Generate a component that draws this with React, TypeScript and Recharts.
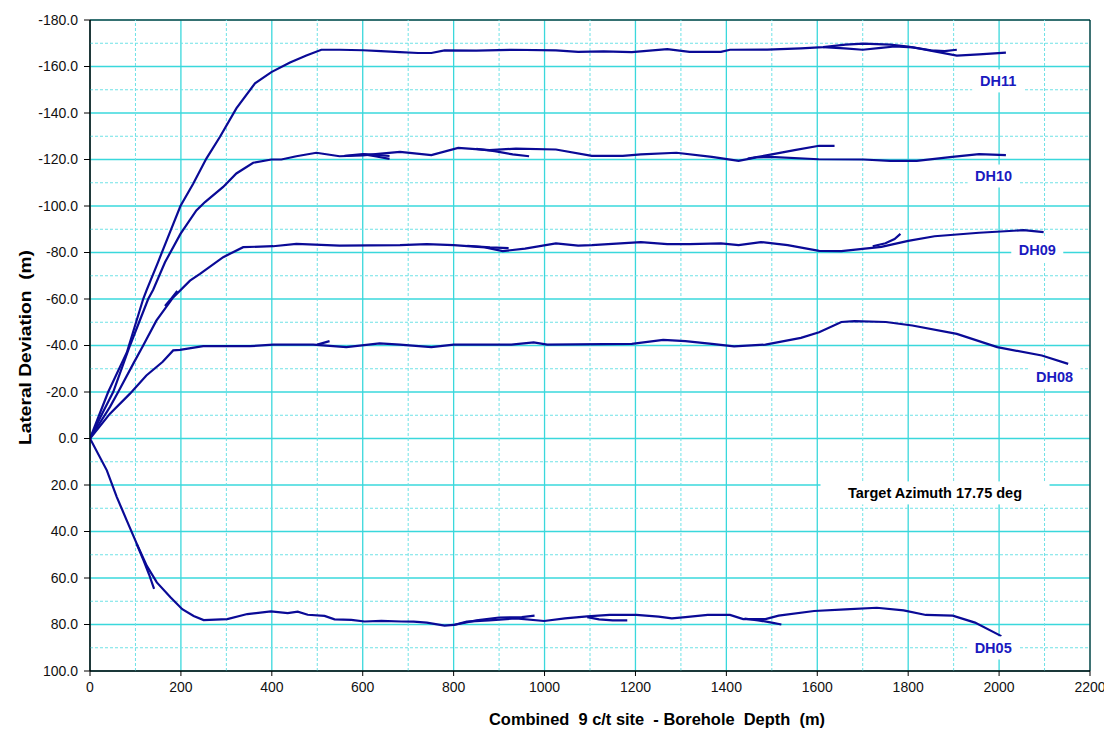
import {
  LineChart,
  Line,
  XAxis,
  YAxis,
  CartesianGrid,
  ReferenceLine,
  ReferenceDot,
  ReferenceArea,
} from "recharts";

type Pt = [number, number];

const FONT = "'Liberation Sans', Arial, sans-serif";
const LINE = "#0a0a96";
const TAG = "#1a1abf";

const xTicks = [0, 200, 400, 600, 800, 1000, 1200, 1400, 1600, 1800, 2000, 2200];
const yTicks = [-180, -160, -140, -120, -100, -80, -60, -40, -20, 0, 20, 40, 60, 80, 100];
const xMinor = [100, 300, 500, 700, 900, 1100, 1300, 1500, 1700, 1900, 2100];
const yMinor = [-170, -150, -130, -110, -90, -70, -50, -30, -10, 10, 30, 50, 70, 90];

// DH11 surveys
const dh11Main: Pt[] = [
  [0, 0], [20, -10], [40, -20], [81, -37], [117, -60], [125, -64], [150, -76],
  [176, -88.8], [199, -100], [227, -109.6], [256, -120.4], [286, -129.8],
  [322, -142], [363, -152.8], [399, -157.6], [440, -161.7], [476, -164.7],
  [509, -167.2], [549, -167.2], [600, -167], [640, -166.6], [682, -166.2],
  [722, -165.8], [751, -165.8], [780, -166.9], [850, -166.8], [927, -167.2],
  [1025, -166.9], [1074, -166.3], [1130, -166.5], [1192, -166.2], [1270, -167.5],
  [1319, -166.3], [1388, -166.3], [1408, -167.2], [1490, -167.3], [1564, -167.8],
  [1613, -168.3], [1662, -169.4], [1701, -169.8], [1760, -169.4], [1800, -168.6],
  [1858, -166.5], [1907, -164.7], [1956, -165.2], [2015, -166],
];
const dh11Late: Pt[] = [
  [1613, -168.3], [1660, -167.8], [1700, -167.2], [1740, -168], [1770, -168.6],
  [1810, -168.2], [1850, -167], [1880, -166.6], [1907, -167.2],
];

// DH10 surveys
const dh10Main: Pt[] = [
  [0, 0], [25, -10], [51, -20], [88, -40], [128, -60], [139, -64], [165, -75.8],
  [199, -88], [234, -98.1], [253, -101.7], [293, -108.2], [322, -114],
  [359, -118.6], [399, -120], [421, -120], [454, -121.4], [498, -122.9],
  [549, -121.4], [600, -121.8], [640, -122.5], [682, -123.3], [751, -121.9],
  [810, -125], [879, -124], [937, -124.7], [1025, -124.3], [1104, -121.6],
  [1172, -121.6], [1212, -122.2], [1290, -122.9], [1368, -121.1], [1427, -119.4],
  [1466, -120.9], [1496, -121.1], [1603, -120.1], [1701, -120], [1760, -119.4],
  [1819, -119.4], [1897, -121.1], [1956, -122.3], [2015, -121.9],
];
const dh10B: Pt[] = [[560, -121.6], [600, -122.3], [630, -121.3], [659, -120.3]];
const dh10C: Pt[] = [[600, -122.3], [630, -122], [659, -121.5]];
const dh10D: Pt[] = [[850, -124.6], [890, -123.6], [930, -122.2], [966, -121.4]];
const dh10E: Pt[] = [[1447, -120.4], [1500, -122.2], [1550, -124], [1604, -125.9], [1638, -125.9]];

// DH09 surveys
const dh09Main: Pt[] = [
  [0, 0], [44, -13.6], [62, -20], [95, -32.1], [117, -40], [146, -50.7],
  [183, -60.7], [220, -67.9], [242, -70.8], [293, -78], [337, -82.3],
  [403, -82.7], [454, -83.7], [549, -83], [682, -83.2], [741, -83.6],
  [800, -83.2], [869, -82.2], [908, -80.6], [957, -81.7], [1025, -83.9],
  [1074, -83], [1104, -83.2], [1212, -84.5], [1270, -83.6], [1319, -83.6],
  [1388, -83.9], [1427, -83.2], [1476, -84.5], [1535, -83.2], [1604, -80.7],
  [1653, -80.6], [1741, -82.4], [1800, -85], [1858, -87], [1956, -88.5],
  [2054, -89.6], [2098, -88.8],
];
const dh09B: Pt[] = [[165, -57], [180, -60.5], [192, -63.5]];
const dh09C: Pt[] = [[830, -82.9], [880, -82.2], [921, -81.9]];
const dh09D: Pt[] = [[1722, -82.7], [1750, -84], [1770, -85.8], [1783, -88]];

// DH08 surveys
const dh08Main: Pt[] = [
  [0, 0], [44, -10.7], [88, -19.3], [124, -27.1], [160, -33], [183, -37.9],
  [198, -38.1], [249, -39.7], [352, -39.7], [403, -40.4], [491, -40.4],
  [564, -39.3], [637, -40.9], [682, -40.4], [751, -39.3], [800, -40.4],
  [927, -40.4], [976, -41.3], [1006, -40.4], [1192, -40.7], [1261, -42.4],
  [1310, -41.9], [1368, -40.7], [1417, -39.6], [1486, -40.4], [1564, -43.3],
  [1604, -45.7], [1653, -50.1], [1682, -50.5], [1751, -50.1], [1809, -48.6],
  [1907, -45], [1996, -39.3], [2094, -35.7], [2152, -32.1],
];
const dh08B: Pt[] = [[500, -40.4], [527, -41.9]];

// DH05 surveys
const dh05Main: Pt[] = [
  [0, 0], [37, 13.7], [59, 25.2], [81, 35.3], [103, 45.3], [125, 54.8],
  [147, 61.9], [177, 68.3], [203, 73.4], [228, 76.3], [250, 78.1], [302, 77.7],
  [346, 75.5], [398, 74.4], [435, 75.1], [457, 74.5], [479, 75.8], [516, 76.3],
  [538, 77.8], [575, 78], [604, 78.7], [641, 78.4], [685, 78.7], [712, 78.8],
  [741, 79.2], [780, 80.5], [800, 80.2], [829, 78.8], [878, 78.2], [937, 77.4],
  [999, 78.5], [1045, 77.4], [1094, 76.5], [1143, 75.9], [1202, 75.9],
  [1251, 76.6], [1280, 77.4], [1310, 76.8], [1359, 75.9], [1408, 75.9],
  [1437, 77.7], [1486, 77.7], [1515, 76.2], [1593, 74.2], [1662, 73.5],
  [1731, 72.8], [1790, 73.9], [1839, 75.9], [1898, 76.2], [1947, 79.2], [2005, 85],
];
const dh05B: Pt[] = [[103, 45.5], [118, 52.5], [130, 58.5], [141, 64.7]];
const dh05C: Pt[] = [[800, 80.2], [850, 78.2], [900, 77], [950, 76.8], [978, 76.2]];
const dh05D: Pt[] = [[1094, 76.8], [1120, 77.8], [1150, 78.2], [1182, 78.2]];
const dh05E: Pt[] = [[1440, 77.5], [1470, 78.2], [1500, 79.2], [1521, 80]];

const surveys: Pt[][] = [
  dh11Main, dh11Late,
  dh10Main, dh10B, dh10C, dh10D, dh10E,
  dh09Main, dh09B, dh09C, dh09D,
  dh08Main, dh08B,
  dh05Main, dh05B, dh05C, dh05D, dh05E,
];

const tags = [
  { text: "DH11", x: 1998, y: -153.8, w: 52, color: TAG },
  { text: "DH10", x: 1988, y: -112.9, w: 52, color: TAG },
  { text: "DH09", x: 2084, y: -81.1, w: 52, color: TAG },
  { text: "DH08", x: 2122, y: -26.4, w: 52, color: TAG },
  { text: "DH05", x: 1987, y: 90.1, w: 52, color: TAG },
  { text: "Target Azimuth 17.75 deg", x: 1859, y: 23.4, w: 229, color: "#000" },
];

const toPoints = (pts: Pt[]) => pts.map(([x, y]) => ({ x, y }));

function BoxLabel(props: any) {
  const { viewBox, text, w, color } = props;
  const cx = viewBox.x + viewBox.width / 2;
  const cy = viewBox.y + viewBox.height / 2;
  const h = 23;
  return (
    <g>
      <rect x={cx - w / 2} y={cy - h / 2} width={w} height={h} fill="#fff" />
      <text
        x={cx}
        y={cy}
        textAnchor="middle"
        dominantBaseline="central"
        fill={color}
        style={{ fontFamily: FONT, fontSize: 14.5, fontWeight: "bold" }}
      >
        {text}
      </text>
    </g>
  );
}

export default function App() {
  const tick = { fill: "#111", fontSize: 14, fontFamily: FONT };
  return (
    <LineChart
      width={1100}
      height={730}
      margin={{ top: 12, right: 18, left: 0, bottom: 37 }}
    >
      <CartesianGrid stroke="#3ad8dc" strokeWidth={1.3} />
      {xMinor.map((v) => (
        <ReferenceLine key={"vx" + v} x={v} stroke="#6fe2e6" strokeDasharray="3 2" />
      ))}
      {yMinor.map((v) => (
        <ReferenceLine key={"hy" + v} y={v} stroke="#6fe2e6" strokeDasharray="3 2" />
      ))}
      <XAxis
        type="number"
        dataKey="x"
        domain={[0, 2200]}
        ticks={xTicks}
        interval={0}
        allowDataOverflow
        height={30}
        tick={tick}
        tickSize={5}
        tickMargin={6}
        axisLine={{ stroke: "#000" }}
        tickLine={{ stroke: "#000" }}
        label={{
          content: (p: any) => (
            <text
              x={p.viewBox.x + 567}
              y={p.viewBox.y + p.viewBox.height + 24}
              textAnchor="middle"
              textLength={336}
              lengthAdjust="spacingAndGlyphs"
              style={{ fontFamily: FONT, fontSize: 16.5, fontWeight: "bold", whiteSpace: "pre" }}
              fill="#000"
            >
              {"Combined  9 c/t site  - Borehole  Depth  (m)"}
            </text>
          ),
        }}
      />
      <YAxis
        type="number"
        dataKey="y"
        domain={[-180, 100]}
        ticks={yTicks}
        interval={0}
        reversed
        allowDataOverflow
        width={82}
        tick={tick}
        tickSize={6}
        tickMargin={6}
        tickFormatter={(v: number) => v.toFixed(1)}
        axisLine={{ stroke: "#000" }}
        tickLine={{ stroke: "#000" }}
        label={{
          content: (p: any) => {
            const cx = p.viewBox.x + 17;
            const cy = p.viewBox.y + p.viewBox.height / 2 + 2;
            return (
              <text
                x={cx}
                y={cy}
                transform={`rotate(-90 ${cx} ${cy})`}
                textAnchor="middle"
                dominantBaseline="central"
                textLength={195}
                lengthAdjust="spacingAndGlyphs"
                style={{ fontFamily: FONT, fontSize: 17, fontWeight: "bold", whiteSpace: "pre" }}
                fill="#000"
              >
                {"Lateral Deviation  (m)"}
              </text>
            );
          },
        }}
      />
      <ReferenceArea x1={0} x2={2200} y1={-180} y2={100} fill="none" stroke="#000" strokeWidth={1} />
      {tags.map((t) => (
        <ReferenceDot
          key={t.text}
          x={t.x}
          y={t.y}
          r={1}
          fill="none"
          stroke="none"
          label={{ content: (p: any) => <BoxLabel {...p} text={t.text} w={t.w} color={t.color} /> }}
        />
      ))}
      {surveys.map((s, i) => (
        <Line
          key={i}
          data={toPoints(s)}
          dataKey="y"
          type="linear"
          stroke={LINE}
          strokeWidth={2.2}
          dot={false}
          activeDot={false}
          legendType="none"
          isAnimationActive={false}
        />
      ))}
    </LineChart>
  );
}
